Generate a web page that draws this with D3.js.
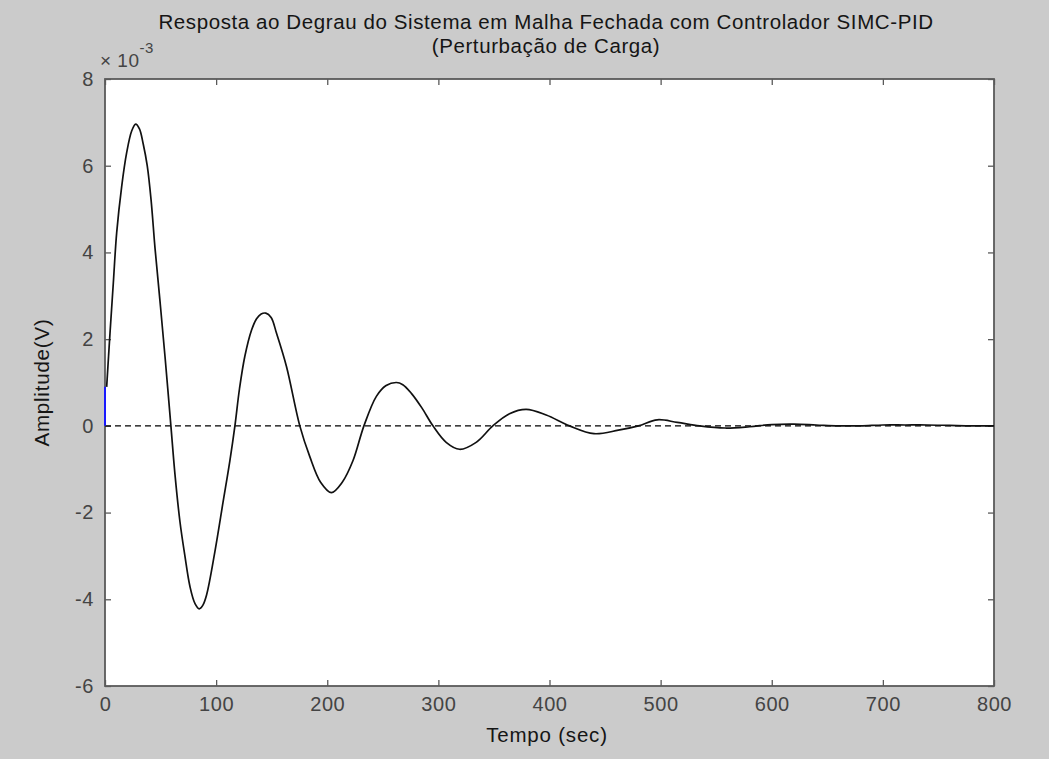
<!DOCTYPE html>
<html>
<head>
<meta charset="utf-8">
<script src="https://cdn.jsdelivr.net/npm/d3@7"></script>
<style>
  html, body { margin: 0; padding: 0; background: #cbcbcb; }
  svg { display: block; }
  text { font-family: Arial, "Liberation Sans", sans-serif; }
</style>
</head>
<body>
<svg id="chart" width="1049" height="759"></svg>
<script>
// Load-disturbance step response, amplitude in units of 1e-3 V
const timeSec = [0, 1.5, 4.5, 7.5, 10.5, 15, 19.5, 24, 27.6, 31, 34.4, 38, 41.5, 45, 49.4, 54, 59.3,
  62.9, 67.4, 71.9, 76.4, 81, 84.8, 88, 91.4, 98.9, 106.3, 112.4, 116.9, 121, 125.8, 131.9,
  136.4, 140.5, 144.7, 149.5, 154.3, 163.3, 175.3, 184.3, 194, 203.7, 213.5, 223.2, 233,
  244.2, 253, 262.2, 268, 275.7, 285, 295.1, 307, 319.1, 334, 349, 364, 379, 397, 418, 440,
  462, 480, 497, 515, 535, 558, 580, 600, 620, 640, 660, 680, 700, 720, 740, 760, 780, 800];
const amplitude = [0, 0.9, 2.14, 3.3, 4.45, 5.52, 6.3, 6.8, 6.96, 6.85, 6.5, 6.0, 5.2, 4.1, 2.9, 1.6, 0,
  -1.1, -2.2, -3.0, -3.7, -4.1, -4.22, -4.14, -3.9, -2.9, -1.75, -0.8, 0, 0.85, 1.6, 2.21,
  2.47, 2.58, 2.6, 2.5, 2.14, 1.37, 0, -0.71, -1.3, -1.54, -1.3, -0.8, 0,
  0.68, 0.93, 1.0, 0.95, 0.75, 0.42, 0, -0.38, -0.54, -0.38, 0, 0.28, 0.38, 0.25, 0, -0.18,
  -0.1, 0, 0.14, 0.08, 0, -0.05, -0.02, 0.03, 0.04, 0.02, 0, 0, 0.02, 0.02, 0.02, 0.01, 0, 0];
// Initial jump at t = 0
const startTime = [0, 0];
const startAmplitude = [0, 0.9];

const xTicks = [0, 100, 200, 300, 400, 500, 600, 700, 800];
const yTicks = [-6, -4, -2, 0, 2, 4, 6, 8];
const titleLines = ["Resposta ao Degrau do Sistema em Malha Fechada com Controlador SIMC-PID",
                    "(Perturbação de Carga)"];
const xLabel = "Tempo (sec)";
const yLabel = "Amplitude(V)";

const svg = d3.select("#chart");
const plotLeft = 105, plotRight = 994, plotTop = 79, plotBottom = 686;

const x = d3.scaleLinear().domain([0, 800]).range([plotLeft, plotRight]);
const y = d3.scaleLinear().domain([-6, 8]).range([plotBottom, plotTop]);

// Plot area
svg.append("rect")
  .attr("x", plotLeft).attr("y", plotTop)
  .attr("width", plotRight - plotLeft).attr("height", plotBottom - plotTop)
  .attr("fill", "#ffffff");

const axisColor = "#5a5a5a";
const labelColor = "#444444";
const tickLen = 6;
const tickFont = 20;

function styleAxis(g) {
  g.select(".domain").remove();
  g.selectAll(".tick line").attr("stroke", axisColor).attr("stroke-width", 1.3);
  g.selectAll(".tick text").attr("fill", labelColor)
    .attr("font-size", tickFont).attr("letter-spacing", 0.6);
}
const plain = d => String(d);

// Bottom and left axes with inward ticks
svg.append("g").attr("transform", `translate(0,${plotBottom})`)
  .call(d3.axisBottom(x).tickValues(xTicks).tickSize(-tickLen).tickPadding(11).tickFormat(plain))
  .call(styleAxis);
svg.append("g").attr("transform", `translate(${plotLeft},0)`)
  .call(d3.axisLeft(y).tickValues(yTicks).tickSize(-tickLen).tickPadding(11).tickFormat(plain))
  .call(styleAxis);
// Mirrored ticks on top and right
svg.append("g").attr("transform", `translate(0,${plotTop})`)
  .call(d3.axisTop(x).tickValues(xTicks).tickSize(-tickLen).tickFormat(""))
  .call(styleAxis);
svg.append("g").attr("transform", `translate(${plotRight},0)`)
  .call(d3.axisRight(y).tickValues(yTicks).tickSize(-tickLen).tickFormat(""))
  .call(styleAxis);

// Frame
svg.append("rect")
  .attr("x", plotLeft).attr("y", plotTop)
  .attr("width", plotRight - plotLeft).attr("height", plotBottom - plotTop)
  .attr("fill", "none").attr("stroke", axisColor).attr("stroke-width", 1.8);

// Zero reference line
svg.append("line")
  .attr("x1", x(0)).attr("x2", x(800))
  .attr("y1", y(0)).attr("y2", y(0))
  .attr("stroke", "#000").attr("stroke-width", 1.4)
  .attr("stroke-dasharray", "6,4");

const line = d3.line().x(d => x(d[0])).y(d => y(d[1]));

svg.append("path")
  .datum(startTime.map((t, i) => [t, startAmplitude[i]]))
  .attr("d", line)
  .attr("fill", "none").attr("stroke", "#1a1aff").attr("stroke-width", 2);

svg.append("path")
  .datum(timeSec.slice(1).map((t, i) => [t, amplitude[i + 1]]))
  .attr("d", line.curve(d3.curveCatmullRom.alpha(0.5)))
  .attr("fill", "none").attr("stroke", "#111").attr("stroke-width", 1.7);

// Exponent multiplier
const mult = svg.append("text").attr("x", 100).attr("y", 67)
  .attr("fill", labelColor).attr("font-size", 19).attr("letter-spacing", 0.5);
mult.append("tspan").text("× 10");
mult.append("tspan").attr("dy", -14).attr("font-size", 15).text("-3");

// Title
titleLines.forEach((t, i) => {
  svg.append("text")
    .attr("x", 546).attr("y", 29 + i * 24)
    .attr("text-anchor", "middle")
    .attr("fill", "#151515").attr("font-size", 20.5).attr("letter-spacing", 0.6)
    .text(t);
});

// Axis labels
svg.append("text")
  .attr("x", 547).attr("y", 742)
  .attr("text-anchor", "middle")
  .attr("fill", "#151515").attr("font-size", 20.5).attr("letter-spacing", 0.8)
  .text(xLabel);
svg.append("text")
  .attr("transform", `translate(49,${(plotTop + plotBottom) / 2}) rotate(-90)`)
  .attr("text-anchor", "middle")
  .attr("fill", "#151515").attr("font-size", 20.5).attr("letter-spacing", 0.8)
  .text(yLabel);
</script>
</body>
</html>
